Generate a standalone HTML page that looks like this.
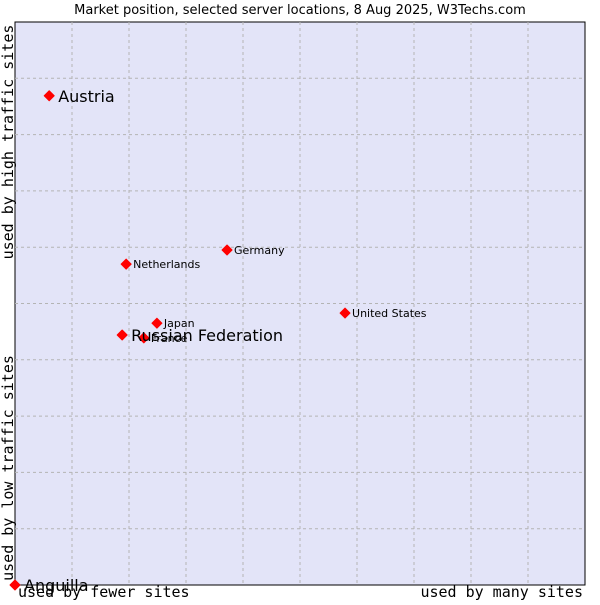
<!DOCTYPE html>
<html><head><meta charset="utf-8"><style>
body{margin:0;background:#fff;width:600px;height:600px;overflow:hidden}
svg text{font-family:"DejaVu Sans","Liberation Sans",sans-serif}
.mono{font-family:"DejaVu Sans Mono","Liberation Mono",monospace;font-size:15px}
</style></head><body>
<svg id="c" width="600" height="600">
<text x="300" y="14" text-anchor="middle" font-size="13">Market position, selected server locations, 8 Aug 2025, W3Techs.com</text>
<rect x="15" y="22" width="570" height="563" fill="#e3e4f8" stroke="#000"/>
<g id="grid"></g>
<text class="mono" x="18" y="597">used by fewer sites</text>
<text class="mono" x="583" y="597" text-anchor="end">used by many sites</text>
<text class="mono" transform="translate(13,142) rotate(-90)" text-anchor="middle">used by high traffic sites</text>
<text class="mono" transform="translate(13,468) rotate(-90)" text-anchor="middle">used by low traffic sites</text>
<g id="pts"></g>
</svg>
<script>
const names=["Austria","Netherlands","Germany","United States","Japan","France","Russian Federation","Anguilla"];
const xs=[6.0,19.5,37.2,57.9,24.9,22.6,18.8,0];
const ys=[86.9,57.0,59.5,48.3,46.5,43.9,44.4,0];
const big=[true,false,false,false,false,false,true,true];
const NS="http://www.w3.org/2000/svg";
const X=v=>15+v/100*570, Y=v=>585-v/100*563;
const g=document.getElementById('grid');
for(let i=1;i<10;i++){
 const l=document.createElementNS(NS,'line');
 l.setAttribute('x1',X(i*10));l.setAttribute('x2',X(i*10));l.setAttribute('y1',22);l.setAttribute('y2',585);
 l.setAttribute('stroke','#b4b4b4');l.setAttribute('stroke-dasharray','3,3');
 
 
 g.appendChild(l);
 const h=document.createElementNS(NS,'line');
 h.setAttribute('y1',Y(i*10));h.setAttribute('y2',Y(i*10));h.setAttribute('x1',15);h.setAttribute('x2',585);
 h.setAttribute('stroke','#b4b4b4');h.setAttribute('stroke-dasharray','3,3');
 
 
 g.appendChild(h);
}
const p=document.getElementById('pts');
names.forEach((n,i)=>{
 const x=X(xs[i]),y=Y(ys[i]);
 const d=document.createElementNS(NS,'path');
 d.setAttribute('d',`M${x-5},${y}L${x},${y-5}L${x+5},${y}L${x},${y+5}Z`);
 d.setAttribute('fill','#f00');
 d.setAttribute('stroke','#f00');
 d.setAttribute('stroke-linejoin','round');
 
 
 p.appendChild(d);
 const t=document.createElementNS(NS,'text');
 t.setAttribute('x',x+(big[i]?9:7));t.setAttribute('y',y+(big[i]?6:4));
 t.setAttribute('font-size',big[i]?16:11);
 t.textContent=n;
 
 
 p.appendChild(t);
});
</script>
</body></html>
